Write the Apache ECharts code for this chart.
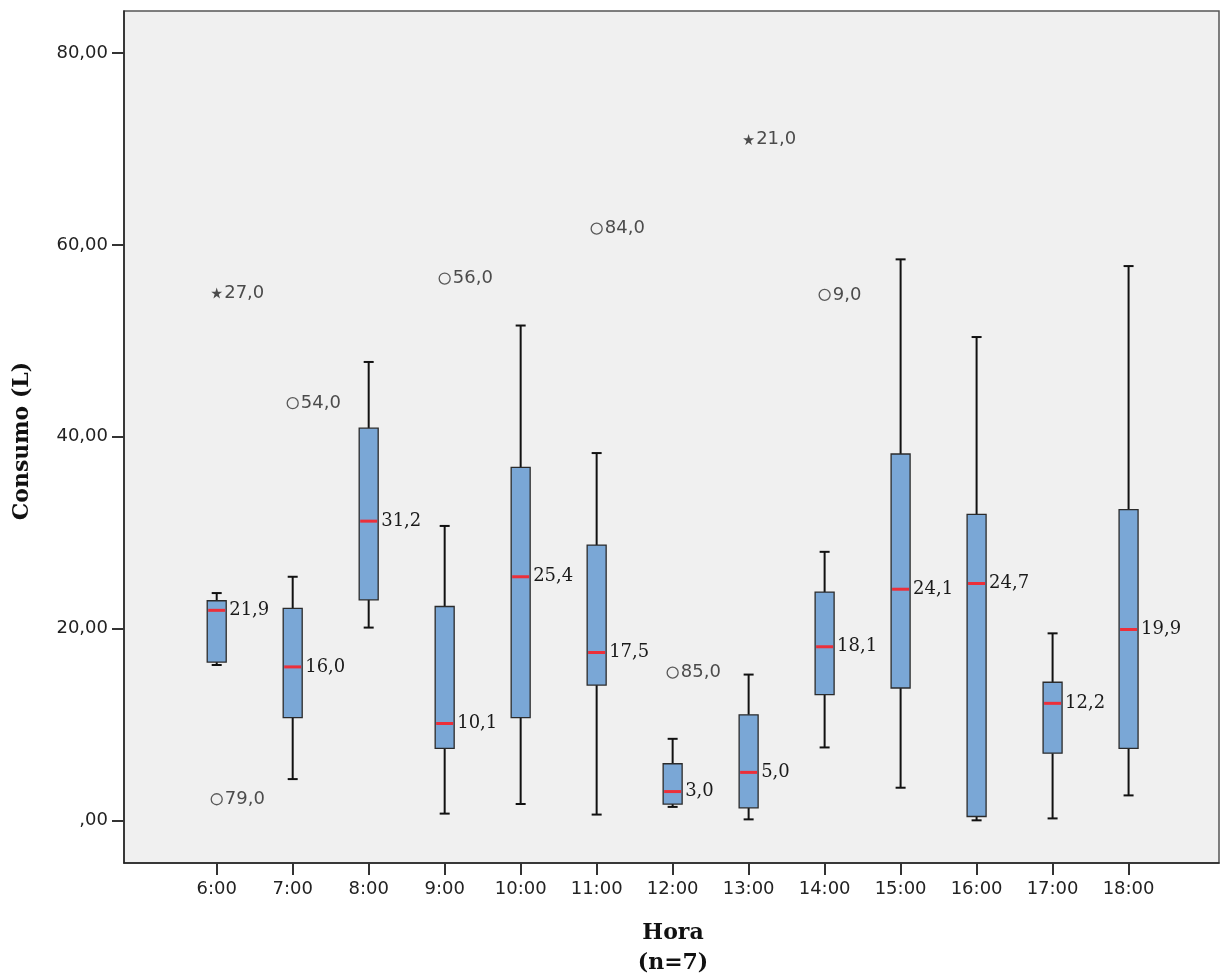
<!DOCTYPE html>
<html>
<head>
<meta charset="UTF-8">
<title>Consumo por hora</title>
<script src="https://cdn.jsdelivr.net/npm/echarts@6/dist/echarts.min.js"></script>
<style>
  html, body { margin: 0; padding: 0; background: #fff; }
</style>
</head>
<body>
	<div id="container" style="width:1222px;height:979px;"></div>
	<script type="text/javascript">
	// horas (eje x) y estadisticos de cada caja
	var horas      = [6, 7, 8, 9, 10, 11, 12, 13, 14, 15, 16, 17, 18];
	var bigoteInf  = [16.2, 4.3, 20.1, 0.7, 1.7, 0.6, 1.4, 0.1, 7.6, 3.4, 0.0, 0.2, 2.6];
	var q1         = [16.5, 10.7, 23.0, 7.5, 10.7, 14.1, 1.7, 1.3, 13.1, 13.8, 0.4, 7.0, 7.5];
	var mediana    = [21.9, 16.0, 31.2, 10.1, 25.4, 17.5, 3.0, 5.0, 18.1, 24.1, 24.7, 12.2, 19.9];
	var q3         = [22.9, 22.1, 40.9, 22.3, 36.8, 28.7, 5.9, 11.0, 23.8, 38.2, 31.9, 14.4, 32.4];
	var bigoteSup  = [23.7, 25.4, 47.8, 30.7, 51.6, 38.3, 8.5, 15.2, 28.0, 58.5, 50.4, 19.5, 57.8];

	// valores atipicos: hora, valor, caso
	var atipHora   = [6, 7, 9, 11, 12, 14];
	var atipValor  = [2.2, 43.5, 56.5, 61.7, 15.4, 54.8];
	var atipCaso   = ['79,0', '54,0', '56,0', '84,0', '85,0', '9,0'];
	// extremos (estrella)
	var extHora    = [6, 13];
	var extValor   = [55.0, 71.0];
	var extCaso    = ['27,0', '21,0'];

	var yTicks = [0, 20, 40, 60, 80];

	var cajas = [];
	for (var i = 0; i < horas.length; i++) {
		cajas.push([horas[i], bigoteInf[i], q1[i], mediana[i], q3[i], bigoteSup[i]]);
	}
	var atipicos = [];
	for (var i = 0; i < atipHora.length; i++) {
		atipicos.push({value: [atipHora[i], atipValor[i]], caso: atipCaso[i]});
	}
	var extremos = [];
	for (var i = 0; i < extHora.length; i++) {
		extremos.push({value: [extHora[i], extValor[i]], caso: extCaso[i]});
	}

	function fmt(v) {
		return v.toFixed(1).replace('.', ',');
	}

	function dibujarCaja(params, api) {
		var x = api.value(0);
		var lo = api.coord([x, api.value(1)]);
		var a = api.coord([x, api.value(2)]);
		var md = api.coord([x, api.value(3)]);
		var b = api.coord([x, api.value(4)]);
		var hi = api.coord([x, api.value(5)]);
		var cx = lo[0];
		var hw = 9.5, cw = 5;
		var linea = {stroke: '#111', lineWidth: 2};
		return {
			type: 'group',
			children: [
				{type: 'line', shape: {x1: cx, y1: hi[1], x2: cx, y2: b[1]}, style: linea},
				{type: 'line', shape: {x1: cx, y1: a[1], x2: cx, y2: lo[1]}, style: linea},
				{type: 'line', shape: {x1: cx - cw, y1: hi[1], x2: cx + cw, y2: hi[1]}, style: linea},
				{type: 'line', shape: {x1: cx - cw, y1: lo[1], x2: cx + cw, y2: lo[1]}, style: linea},
				{type: 'rect', shape: {x: cx - hw, y: b[1], width: hw * 2, height: a[1] - b[1]},
					style: {fill: '#7AA7D6', stroke: '#2b2b2b', lineWidth: 1.3}},
				{type: 'line', shape: {x1: cx - hw + 1, y1: md[1], x2: cx + hw - 1, y2: md[1]},
					style: {stroke: '#EC2F3A', lineWidth: 3}},
				{type: 'text', x: cx + hw + 3, y: md[1],
					style: {text: fmt(api.value(3)), font: '18px "DejaVu Serif"', fill: '#1a1a1a',
						align: 'left', verticalAlign: 'middle'}}
			]
		};
	}

	var dom = document.getElementById("container");
	var myChart = echarts.init(dom);
	var option = {
		animation: false,
		backgroundColor: '#fff',
		grid: {
			left: 124, top: 11, right: 3, bottom: 116,
			show: true, backgroundColor: '#F0F0F0', borderColor: '#555', borderWidth: 1.5
		},
		xAxis: {
			type: 'value',
			min: 4.78,
			max: 19.19,
			splitLine: {show: false},
			axisLine: {show: true, onZero: false, lineStyle: {color: '#222', width: 1.5}},
			axisTick: {show: true, length: 12, customValues: horas, lineStyle: {color: '#333', width: 2}},
			axisLabel: {
				customValues: horas, margin: 17, color: '#222',
				fontFamily: 'DejaVu Sans', fontSize: 18,
				formatter: function (v) { return v + ':00'; }
			}
		},
		yAxis: {
			type: 'value',
			min: -4.45,
			max: 84.4,
			splitLine: {show: false},
			axisLine: {show: true, onZero: false, lineStyle: {color: '#222', width: 1.5}},
			axisTick: {show: true, length: 12, customValues: yTicks, lineStyle: {color: '#333', width: 2}},
			axisLabel: {
				customValues: yTicks, margin: 16, color: '#222',
				fontFamily: 'DejaVu Sans', fontSize: 18,
				formatter: function (v) { return v === 0 ? ',00' : v + ',00'; }
			}
		},
		graphic: [
			{type: 'text', x: 22, y: 441, rotation: Math.PI / 2,
				style: {text: 'Consumo (L)', font: 'bold 22px "DejaVu Serif"', fill: '#111',
					align: 'center', verticalAlign: 'middle'}},
			{type: 'text', x: 673, y: 933,
				style: {text: 'Hora', font: 'bold 22px "DejaVu Serif"', fill: '#111',
					align: 'center', verticalAlign: 'middle'}},
			{type: 'text', x: 673, y: 963,
				style: {text: '(n=7)', font: 'bold 22px "DejaVu Serif"', fill: '#111',
					align: 'center', verticalAlign: 'middle'}}
		],
		series: [
			{
				type: 'custom',
				renderItem: dibujarCaja,
				data: cajas,
				encode: {x: 0, y: [1, 2, 3, 4, 5]}
			},
			{
				type: 'scatter',
				data: atipicos,
				symbol: 'circle',
				symbolSize: 11,
				itemStyle: {color: 'transparent', borderColor: '#333', borderWidth: 1.3},
				label: {
					show: true, position: 'right', distance: 2,
					fontFamily: 'DejaVu Sans', fontSize: 18, color: '#222',
					formatter: function (p) { return p.data.caso; }
				}
			},
			{
				type: 'scatter',
				data: extremos,
				symbol: 'path://M50,0 L61,35 L98,35 L68,57 L79,91 L50,70 L21,91 L32,57 L2,35 L39,35 Z',
				symbolSize: 11,
				itemStyle: {color: '#222'},
				label: {
					show: true, position: 'right', distance: 2,
					fontFamily: 'DejaVu Sans', fontSize: 18, color: '#222',
					formatter: function (p) { return p.data.caso; }
				}
			}
		]
	};
	myChart.setOption(option);
	</script>
</body>
</html>
